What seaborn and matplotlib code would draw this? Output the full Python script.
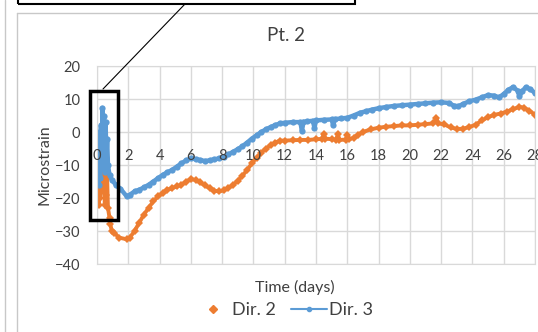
import matplotlib
matplotlib.use("Agg")
import matplotlib.pyplot as plt
from matplotlib.lines import Line2D
from matplotlib.patches import Rectangle
import seaborn as sns

# Dir. 2 (orange) readings: days, microstrain
dir2_days = [0.00, 0.05, 0.10, 0.15, 0.20, 0.25, 0.30, 0.35, 0.40, 0.45, 0.50, 0.55,
             0.60, 0.65, 0.70, 0.80, 0.85, 0.95, 1.10, 1.40, 1.90, 2.10, 2.40, 2.70,
             3.00, 3.30, 3.60, 3.90, 4.20, 4.50, 4.80, 5.10, 5.40, 5.70, 6.00, 6.30,
             6.60, 6.90, 7.20, 7.50, 7.80, 8.10, 8.40, 8.70, 9.00, 9.30, 9.60, 9.90,
             10.20, 10.50, 10.80, 11.10, 11.40, 11.70, 12.00, 12.50, 13.00, 13.50,
             14.00, 14.40, 14.50, 14.60, 15.00, 15.30, 15.40, 15.50, 15.90, 16.00,
             16.10, 16.40, 16.70, 17.00, 17.50, 18.00, 18.50, 19.00, 19.50, 20.00,
             20.50, 21.00, 21.50, 21.70, 21.80, 22.20, 22.60, 23.00, 23.40, 23.80,
             24.20, 24.60, 25.00, 25.40, 25.80, 26.20, 26.60, 27.00, 27.30, 27.60,
             28.00]
dir2_vals = [-5, -12, -22, -8, -20, -3, -15, -1, -18, -6, -22, -9,
             -19, -14, -23, -26, -28, -30, -30.5, -32, -32.5, -32, -30, -27.5,
             -25, -23, -21, -19.5, -18.5, -17.5, -17, -16.5, -16, -15, -14.3, -14.5,
             -15.3, -16.2, -17, -17.8, -18, -17.7, -17, -16, -14.8, -13.2, -11.5, -9.5,
             -7.8, -6.3, -5, -4, -3.2, -2.6, -2.6, -2.5, -2.4, -2.4,
             -2.2, -2.1, -0.5, -2.0, -2.2, -2.3, -0.6, -2.4, -2.3, -0.8,
             -2.2, -1.8, -0.8, 0, 0.8, 1.3, 1.6, 1.8, 2.0, 2.0,
             2.2, 2.4, 2.6, 4.2, 2.6, 2.3, 1.4, 0.9, 1.0, 1.5,
             2.2, 3.5, 4.5, 5.2, 5.6, 6.2, 6.9, 7.6, 7.4, 6.5,
             5.3]

# Dir. 3 (blue) readings
dir3_days = [0.00, 0.05, 0.10, 0.15, 0.20, 0.25, 0.30, 0.35, 0.40, 0.45, 0.50, 0.55,
             0.60, 0.65, 0.70, 0.80, 0.95, 1.20, 1.50, 1.90, 2.10, 2.40, 2.70, 3.00,
             3.30, 3.60, 3.90, 4.20, 4.50, 4.80, 5.10, 5.40, 5.70, 6.00, 6.30, 6.60,
             6.90, 7.20, 7.50, 7.80, 8.10, 8.40, 8.70, 9.00, 9.30, 9.60, 9.90, 10.20,
             10.50, 10.80, 11.10, 11.40, 11.70, 12.00, 12.50, 13.00, 13.10, 13.20,
             13.40, 13.80, 13.90, 14.00, 14.50, 15.00, 15.10, 15.20, 15.60, 16.00,
             16.40, 16.80, 17.20, 17.60, 18.00, 18.50, 19.00, 19.50, 20.00, 20.50,
             21.00, 21.50, 22.00, 22.50, 22.80, 23.10, 23.40, 23.80, 24.20, 24.60,
             25.00, 25.40, 25.70, 26.00, 26.30, 26.60, 26.90, 27.00, 27.20, 27.40,
             27.70, 28.00]
dir3_vals = [0, -12, -16, -3, -14, 2, -10, 7.3, -5, 5, -12, 3,
             -8, -2, -10, -13, -14.5, -16, -17.2, -19.5, -19, -18, -17.5, -16.8,
             -16, -15, -14, -13, -12.2, -11.5, -10.5, -9.5, -8.6, -8.0, -8.2, -8.5,
             -8.8, -8.6, -8.3, -8.0, -7.5, -6.8, -6.0, -5.2, -4.3, -3.2, -2.0, -1.0,
             0, 0.8, 1.5, 2.1, 2.6, 2.8, 3.0, 3.0, 0.3, 3.1,
             3.2, 3.4, 1.3, 3.5, 3.7, 3.8, 2.0, 3.9, 4.1, 4.3,
             5.0, 5.8, 6.3, 6.8, 7.2, 7.6, 7.9, 8.1, 8.3, 8.5,
             8.7, 8.9, 9.0, 8.8, 8.0, 7.8, 8.5, 9.3, 9.8, 10.5,
             11.2, 11.0, 10.5, 11.5, 12.8, 13.6, 12.5, 10.8, 12.5, 13.5,
             13.0, 11.8]

x_ticks = list(range(0, 29, 2))
y_ticks = [-40, -30, -20, -10, 0, 10, 20]

orange = "#ED7D31"
blue = "#5B9BD5"
grid_gray = "#D9D9D9"
text_gray = "#404040"

sns.set_style("white")
plt.rcParams['font.family'] = ['Lato', 'DejaVu Sans']

fig = plt.figure(figsize=(5.38, 3.32), dpi=100)
ax = fig.add_axes([0.1803, 0.2048, 0.8141, 0.5964])

sns.lineplot(x=dir2_days, y=dir2_vals, ax=ax, color=orange, sort=False, estimator=None,
             marker="D", markersize=4.5, markeredgewidth=0, linewidth=2.8)
sns.lineplot(x=dir3_days, y=dir3_vals, ax=ax, color=blue, sort=False, estimator=None,
             marker="o", markersize=4.5, markeredgewidth=0, linewidth=3.2)

ax.set_xlim(0, 28)
ax.set_ylim(-40, 20)
ax.set_xticks(x_ticks)
ax.set_yticks(y_ticks)
ax.grid(True, color=grid_gray, linewidth=1)
ax.set_axisbelow(True)
for s in ax.spines.values():
    s.set_color(grid_gray)
ax.tick_params(axis="y", length=0, pad=12, labelsize=10.5, colors=text_gray)
ax.tick_params(axis="x", length=0, labelbottom=False)
ax.set_xlabel("")
ax.set_ylabel("")

# horizontal axis crosses at zero, labels just under it and drawn over the data
sec = ax.secondary_xaxis(2.0 / 3.0)
sec.set_alignment("bottom")
sec.set_xticks(x_ticks)
sec.tick_params(length=0, pad=12, labelsize=10.5, colors=text_gray)
sec.spines["bottom"].set_visible(False)
sec.spines["top"].set_visible(False)
sec.set_zorder(5)

fig.text(0.532, 0.892, "Pt. 2", ha="center", va="center", fontsize=13.5, color=text_gray)
fig.text(0.082, 0.503, "Microstrain", ha="center", va="center", rotation=90,
         fontsize=11.5, color=text_gray)
fig.text(0.548, 0.135, "Time (days)", ha="center", va="center", fontsize=11.5, color=text_gray)

handles = [Line2D([], [], color=orange, marker="D", markersize=4, linestyle="none"),
           Line2D([], [], color=blue, marker="o", markersize=3, linewidth=1.5)]
fig.legend(handles, ["Dir. 2", "Dir. 3"], loc="center", bbox_to_anchor=(0.527, 0.066),
           ncol=2, frameon=False, fontsize=13, handlelength=2.0, columnspacing=0.8,
           handletextpad=0.1, labelcolor=text_gray)

# chart frame and callout annotations
fig.add_artist(Line2D([5 / 538, 5 / 538], [0, 1], color="#C8C8C8", linewidth=1))
fig.add_artist(Line2D([17 / 538, 17 / 538], [0, 1 - 13 / 332], color="#C8C8C8", linewidth=1))
fig.add_artist(Line2D([17 / 538, 1], [1 - 13 / 332, 1 - 13 / 332], color="#C8C8C8", linewidth=1))
fig.add_artist(Rectangle((18 / 538, 1 - 4 / 332), 337 / 538, 10 / 332, fill=False,
                         edgecolor="black", linewidth=1.5))
fig.add_artist(Line2D([185 / 538, 103 / 538], [1 - 4 / 332, 1 - 89 / 332],
                      color="black", linewidth=0.8))
fig.add_artist(Rectangle((90 / 538, 1 - 220 / 332), 28 / 538, 129 / 332, fill=False,
                         edgecolor="black", linewidth=2.5))

fig.savefig("out.png", dpi=100)
